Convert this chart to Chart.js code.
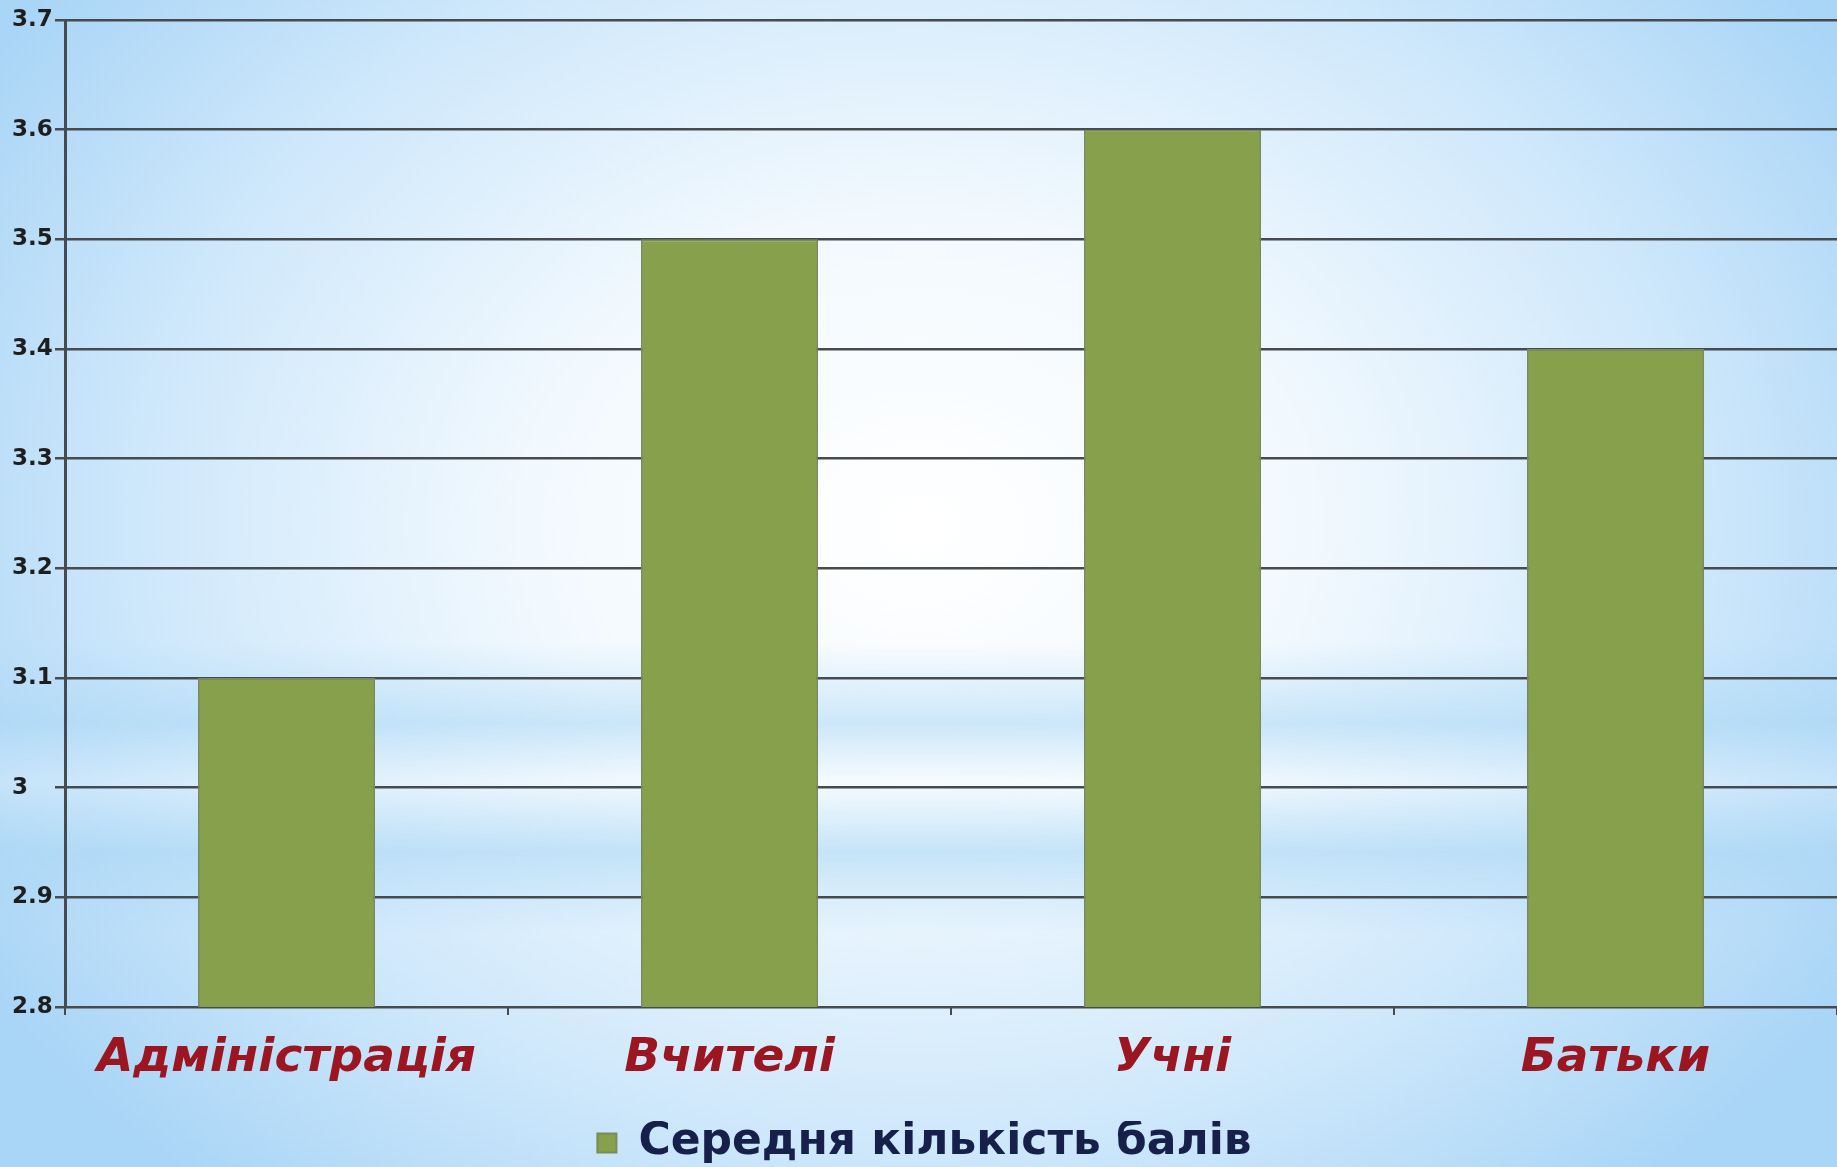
<!DOCTYPE html>
<html>
<head>
<meta charset="utf-8">
<script src="https://cdn.jsdelivr.net/npm/chart.js@4.4.0/dist/chart.umd.min.js"></script>
<style>
  html, body { margin: 0; padding: 0; }
  body {
    width: 1837px; height: 1167px; overflow: hidden;
    background:
      linear-gradient(180deg, rgba(255,255,255,0) 0%, rgba(255,255,255,0) 55%, rgba(170,215,245,0.55) 62%, rgba(255,255,255,0.2) 67%, rgba(170,215,245,0.6) 73%, rgba(255,255,255,0) 80%, rgba(255,255,255,0) 100%),
      radial-gradient(ellipse 60% 75% at 50% 45%, #ffffff 0%, #f2f9fe 35%, #cfe8fb 70%, #a9d5f6 100%);
  }
  #wrap { position: absolute; left: 0; top: 0; width: 1837px; height: 1167px; }
</style>
</head>
<body>
<div id="wrap"><canvas id="chart"></canvas></div>
<script>
// Data
const categories = ['Адміністрація', 'Вчителі', 'Учні', 'Батьки'];
const averageScores = [3.1, 3.5, 3.6, 3.4];
const yTickLabels = ['2.8', '2.9', '3', '3.1', '3.2', '3.3', '3.4', '3.5', '3.6', '3.7'];
const seriesLabel = 'Середня кількість балів';

const gridColor = '#464b4f';

const canvas = document.getElementById('chart');
new Chart(canvas, {
    type: 'bar',
    data: {
        labels: categories,
        datasets: [{
            label: seriesLabel,
            data: averageScores,
            backgroundColor: '#87a04b',
            borderColor: '#7a8a58',
            borderWidth: 2,
            categoryPercentage: 1,
            barPercentage: 0.4
        }]
    },
    options: {
        responsive: true,
        maintainAspectRatio: false,
        animation: false,
        layout: {
            padding: { top: 20, right: 0, bottom: -8, left: 12 }
        },
        scales: {
            x: {
                grid: {
                    display: true,
                    drawOnChartArea: false,
                    drawTicks: true,
                    tickLength: 8,
                    color: gridColor,
                    lineWidth: 2
                },
                border: { color: gridColor, width: 2 },
                ticks: {
                    color: '#9b1620',
                    padding: 16,
                    font: { family: 'DejaVu Sans', size: 47, weight: 'bold', style: 'italic' }
                },
                afterFit: (scale) => { scale.height = 114; }
            },
            y: {
                min: 2.8,
                max: 3.7,
                ticks: {
                    stepSize: 0.1,
                    color: '#1e1e1e',
                    padding: 4,
                    crossAlign: 'far',
                    font: { family: 'DejaVu Sans', size: 23, weight: 'bold' },
                    callback: (value, index) => yTickLabels[index]
                },
                grid: {
                    color: gridColor,
                    lineWidth: 2.5,
                    tickLength: 10
                },
                border: { color: gridColor, width: 3 },
                afterFit: (scale) => { scale.width = 53; }
            }
        },
        plugins: {
            legend: {
                position: 'bottom',
                labels: {
                    color: '#17204a',
                    boxWidth: 19,
                    boxHeight: 19,
                    padding: 0,
                    font: { family: 'DejaVu Sans', size: 44, weight: 'bold' }
                }
            },
            tooltip: { enabled: false }
        }
    }
});
</script>
</body>
</html>
